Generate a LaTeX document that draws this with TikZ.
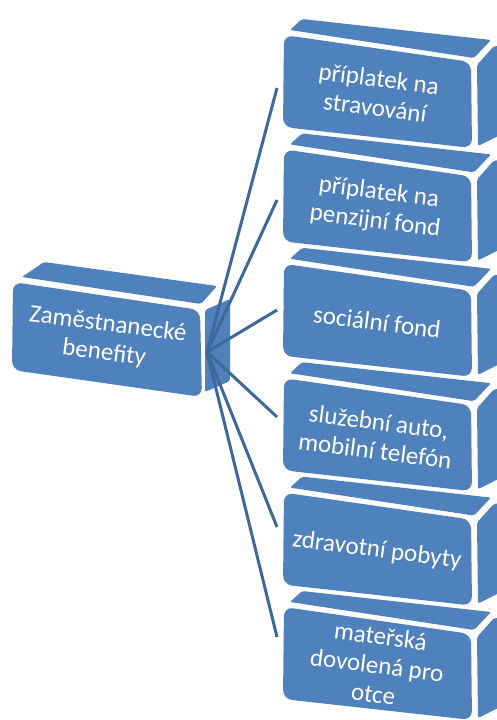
\documentclass[tikz,border=0pt]{standalone}
\usepackage{fontspec}
\setmainfont{Carlito}
\definecolor{boxblue}{RGB}{79,129,189}
\definecolor{linkblue}{RGB}{60,104,156}
\begin{document}
\begin{tikzpicture}[x=1pt,y=-1pt,
  face/.style={fill=boxblue, rounded corners=2pt},
  frontface/.style={fill=boxblue, rounded corners=9pt},
  lbl/.style={text=white, font=\fontsize{25}{29}\selectfont, align=center,
              rotate=-7.3, inner sep=0pt},
  link/.style={draw=linkblue, line width=3pt}]
\useasboundingbox (0,0) rectangle (496,720);

% central box: top face, side face, front face
\fill[face] (22,277) -- (44,262) -- (217,286) -- (201,304) -- cycle;
\fill[face] (205,310) -- (230,299) -- (230,381) -- (205,392) -- cycle;
\fill[frontface] (13,282) -- (200,310) -- (202,397) -- (12,370) -- cycle;
\node[lbl] (root) at (106,339) {Zaměstnanecké\\benefity};

% column of benefit boxes
\foreach \i/\txt in {0/{příplatek na\\stravování},
                     1/{příplatek na\\penzijní fond},
                     2/{sociální fond},
                     3/{služební auto,\\mobilní telefón},
                     4/{zdravotní pobyty},
                     5/{mateřská\\dovolená pro\\otce}} {
  \begin{scope}[shift={(0,114.4*\i)}]
    \fill[face] (290,30) -- (302,19) -- (491,40) -- (474,58) -- cycle;
    \fill[face] (477,65) -- (494,46) -- (502,46) -- (502,134) -- (478,146) -- cycle;
    \fill[frontface] (284,35) -- (471,62) -- (472,148) -- (283,127) -- cycle;
    \node[lbl] (b\i) at (377,93) {\txt};
  \end{scope}
}

% connectors from the central box to each benefit
\coordinate (hub) at (207,352);
\coordinate (e0) at (277,88);
\coordinate (e1) at (277,200);
\coordinate (e2) at (277,310);
\coordinate (e3) at (277,417);
\coordinate (e4) at (277,527);
\coordinate (e5) at (277,637);
\foreach \i in {0,...,5} {
  \draw[link] (hub) -- (e\i);
}
\end{tikzpicture}
\end{document}
